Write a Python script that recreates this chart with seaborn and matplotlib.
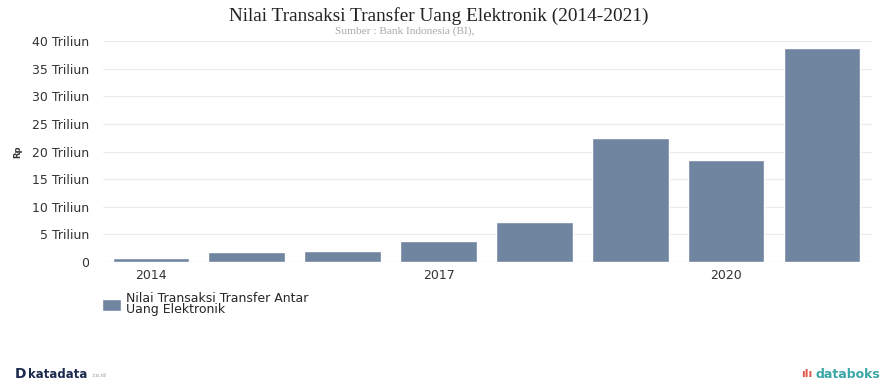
import pandas as pd
import matplotlib
matplotlib.use("Agg")
import matplotlib.pyplot as plt
import seaborn as sns

# data (Rp trillion)
years = [2014, 2015, 2016, 2017, 2018, 2019, 2020, 2021]
nilai = [0.8, 1.8, 2.0, 3.8, 7.3, 22.4, 18.4, 38.7]
y_ticks = [0, 5, 10, 15, 20, 25, 30, 35, 40]
y_labels = ["0"] + [f"{t} Triliun" for t in y_ticks[1:]]
series_name = "Nilai Transaksi Transfer Antar\nUang Elektronik"

df = pd.DataFrame({"tahun": years, "nilai": nilai})

sns.set_theme(style="white")
plt.rcParams['font.family'] = ['DejaVu Sans']

bar_color = "#70859f"
fig = plt.figure(figsize=(8.86, 3.85), dpi=100)
ax = fig.add_axes([0.1163, 0.3195, 0.8677, 0.5732])

sns.barplot(data=df, x="tahun", y="nilai", color=bar_color, saturation=1,
            width=0.8, ax=ax, label=series_name)

ax.set_ylim(0, 40)
ax.set_xlim(-0.5, 7.52)
ax.set_yticks(y_ticks)
ax.set_yticklabels(y_labels, fontsize=9, color="#333333")
ax.set_xticks([0, 3, 6])
ax.set_xticklabels([str(years[i]) for i in [0, 3, 6]], fontsize=9, color="#333333")
ax.tick_params(axis="y", length=0, pad=10)
ax.tick_params(axis="x", length=0, pad=5)
ax.grid(axis="y", color="#ececec", linewidth=0.8)
ax.set_axisbelow(True)
for s in ax.spines.values():
    s.set_visible(False)
ax.axhline(0, color="#e2e2e2", linewidth=0.9, zorder=0)
ax.set_xlabel("")
ax.set_ylabel("Rp", fontsize=6, color="#333333", fontweight="bold")
ax.yaxis.set_label_coords(-0.105, 0.5)

fig.text(0.495, 0.958, "Nilai Transaksi Transfer Uang Elektronik (2014-2021)",
         ha="center", va="center", fontsize=13.9, family="Liberation Serif", color="#222222")
fig.text(0.457, 0.918, "Sumber : Bank Indonesia (BI),", ha="center", va="center",
         fontsize=8.2, family="Liberation Serif", color="#a8a8a8")

ax.legend(loc="upper left", bbox_to_anchor=(-0.0155, -0.085), frameon=False,
          fontsize=9, handlelength=1.45, handleheight=1.15, handletextpad=0.4,
          labelspacing=0)
for t in ax.get_legend().get_texts():
    t.set_linespacing(0.8)

fig.text(0.017, 0.028, "D", fontsize=10, fontweight="bold", color="#1d2b4f", va="center")
fig.text(0.032, 0.028, "katadata", fontsize=8.5, fontweight="bold", color="#1d2b4f", va="center")
fig.text(0.103, 0.025, ".co.id", fontsize=4, color="#999999", va="center")
fig.text(0.917, 0.028, "ılı", fontsize=8, fontweight="bold", color="#e05a4f", va="center", ha="right")
fig.text(0.993, 0.028, "databoks", fontsize=9, fontweight="bold", color="#3aa6a6",
         va="center", ha="right")

fig.savefig("out.png", dpi=100, facecolor="white")
